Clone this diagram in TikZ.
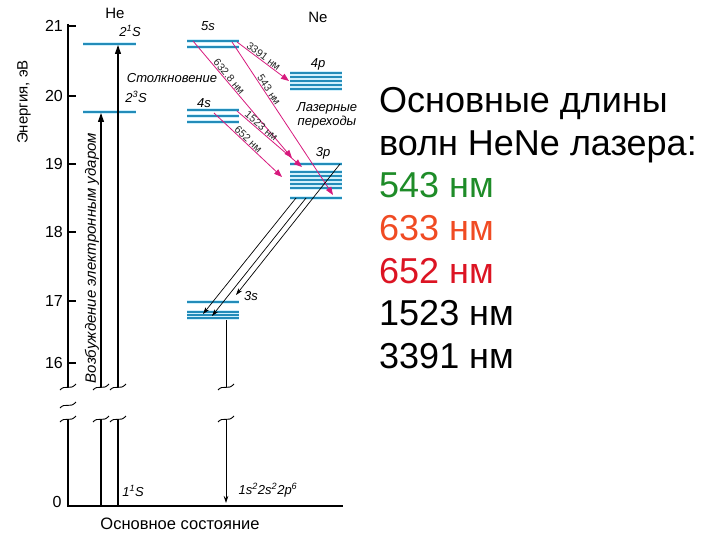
\documentclass[tikz,border=0pt]{standalone}
\usepackage{fontspec}
\setmainfont{Liberation Sans}
\usetikzlibrary{arrows.meta}
\definecolor{levelblue}{RGB}{35,140,185}
\definecolor{laserpink}{RGB}{215,25,125}
\definecolor{green543}{RGB}{30,140,40}
\definecolor{red633}{RGB}{240,75,35}
\definecolor{red652}{RGB}{220,20,35}
\tikzset{
  lvl/.style={levelblue,line width=1.3pt,preaction={draw=cyan!18,line width=3.6pt}},
  pump/.style={line width=1.1pt,-{Triangle[length=9pt,width=6pt]}},
  laser/.style={laserpink,line width=0.8pt,-{Triangle[length=8pt,width=6pt]}},
  decay/.style={line width=0.7pt,-{Stealth[length=7pt,width=4.5pt]}},
  wl/.style={sloped,above,inner sep=0.5pt,font=\fontsize{10.5}{11}\selectfont,text=black!85},
  itl/.style={font=\fontsize{13}{14}\selectfont\itshape},
  brk/.pic={\draw[line width=0.9pt] (-8,3) .. controls (-3,-3) and (2,4) .. (8,-3);}
}
\begin{document}
\begin{tikzpicture}[x=1pt,y=-1pt,font=\fontsize{15}{17}\selectfont]
  \useasboundingbox (0,0) rectangle (720,540);
  \draw[line width=1.3pt] (68,24) -- (68,387);
  \draw[line width=1.3pt] (68,419) -- (68,506) -- (343,506);
  \pic at (68,405) {brk};
  \foreach \xpos in {68,101,118,226}{
    \pic at (\xpos,387) {brk};
    \pic at (\xpos,419) {brk};
  }
  \foreach \ypos/\energy in {26/21,96/20,164/19,232/18,301/17,363/16}{
    \draw[line width=1.3pt] (68,\ypos) -- (76,\ypos);
    \node[left,inner sep=2pt,font=\fontsize{16}{18}\selectfont] (tick\energy) at (65,\ypos) {\energy};
  }
  \node[font=\fontsize{16}{18}\selectfont] (tick0) at (57,502) {0};
  \node[rotate=90] (energyLabel) at (24,102) {Энергия, эВ};
  \node (heTitle) at (115,13) {He};
  \node (neTitle) at (318,17) {Ne};
  \foreach \ypos in {44,112} \draw[lvl] (83,\ypos) -- (136,\ypos);
  \foreach \ypos in {41,47,110,116,122,302,312,315,318} \draw[lvl] (187,\ypos) -- (239,\ypos);
  \foreach \ypos in {73,77,81,85,89,164,172,176,180,184,188,198} \draw[lvl] (290,\ypos) -- (342,\ypos);
  \coordinate (heGroundA) at (101,506);
  \coordinate (heGroundB) at (118,506);
  \coordinate (heGapA) at (101,419);
  \coordinate (heGapB) at (118,419);
  \coordinate (heCutA) at (101,387);
  \coordinate (heCutB) at (118,387);
  \coordinate (he23S) at (101,113);
  \coordinate (he21S) at (118,45);
  \draw[line width=1.1pt] (heGroundA) -- (heGapA);
  \draw[line width=1.1pt] (heGroundB) -- (heGapB);
  \draw[pump] (heCutA) -- (he23S);
  \draw[pump] (heCutB) -- (he21S);
  \coordinate (ne5sA) at (193,41);
  \coordinate (ne5sB) at (232,42);
  \coordinate (ne5sC) at (237,42);
  \coordinate (ne4sA) at (214,113);
  \coordinate (ne4sB) at (237,111);
  \coordinate (ne4p) at (289,81);
  \coordinate (ne3pA) at (292,158);
  \coordinate (ne3pB) at (302,167);
  \coordinate (ne3pC) at (282,177);
  \coordinate (ne3pD) at (333,195);
  \draw[laser] (ne5sC) -- node[wl,pos=.46] (wl3391) {3391 нм} (ne4p);
  \draw[laser] (ne5sA) -- node[wl,pos=.33] (wl6328) {632.8 нм} (ne3pA);
  \draw[laser] (ne5sB) -- node[wl,pos=.33] (wl543) {543 нм} (ne3pD);
  \draw[laser] (ne4sB) -- node[wl,pos=.33] (wl1523) {1523 нм} (ne3pB);
  \draw[laser] (ne4sA) -- node[wl,pos=.46] (wl652) {652 нм} (ne3pC);
  \coordinate (ne3pLowA) at (296,198);
  \coordinate (ne3pLowB) at (306,198);
  \coordinate (ne3pTop) at (340,164);
  \coordinate (ne3sA) at (203,314);
  \coordinate (ne3sB) at (212,316);
  \coordinate (ne3sC) at (236,295);
  \draw[decay] (ne3pLowA) -- (ne3sA);
  \draw[decay] (ne3pLowB) -- (ne3sB);
  \draw[decay] (ne3pTop) -- (ne3sC);
  \coordinate (ne3sLow) at (226,320);
  \coordinate (neCut) at (226,387);
  \coordinate (neGap) at (226,419);
  \coordinate (neGround) at (226,503);
  \draw[line width=0.8pt] (ne3sLow) -- (neCut);
  \draw[decay] (neGap) -- (neGround);
  \node[itl] (lbl21S) at (130,31) {2\textsuperscript{1}S};
  \node[itl] (lbl23S) at (136,97) {2\textsuperscript{3}S};
  \node[itl] (lbl11S) at (133,491) {1\textsuperscript{1}S};
  \node[itl] (lblNeGround) at (268,490) {1s\textsuperscript{2}2s\textsuperscript{2}2p\textsuperscript{6}};
  \node[itl] (lbl5s) at (208,26) {5s};
  \node[itl] (lbl4s) at (204,103) {4s};
  \node[itl] (lbl4p) at (318,64) {4p};
  \node[itl] (lbl3p) at (323,153) {3p};
  \node[itl] (lbl3s) at (251,296) {3s};
  \node[itl] (collision) at (172,78) {Столкновение};
  \node[itl,align=center] (laserTrans) at (327,115) {Лазерные\\переходы};
  \node[itl,font=\fontsize{15}{16}\selectfont\itshape,rotate=90] (excitation) at (92,258) {Возбуждение электронным ударом};
  \node[font=\fontsize{16.5}{18}\selectfont] (groundState) at (180,524) {Основное состояние};
  \foreach \ypos/\txt/\col [count=\row] in {113/Основные длины/black,155.5/волн HeNe лазера:/black,198/543 нм/green543,240.5/633 нм/red633,283/652 нм/red652,325.5/1523 нм/black,368/3391 нм/black}{
    \node[anchor=base west,inner sep=0pt,text=\col,font=\fontsize{36}{42}\selectfont] (legend\row) at (379,\ypos) {\txt};
  }
\end{tikzpicture}
\end{document}
